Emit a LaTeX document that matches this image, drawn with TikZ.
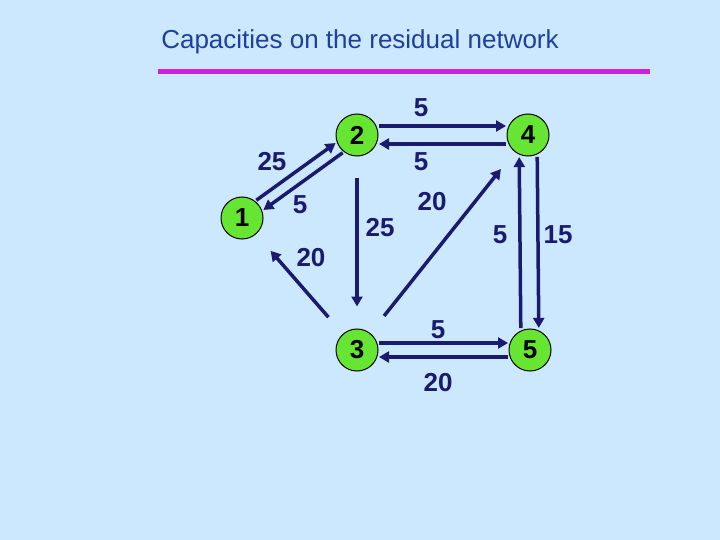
\documentclass[tikz,border=0pt]{standalone}
\usepackage{fontspec}
\setmainfont{Liberation Sans}
\usetikzlibrary{calc,arrows.meta}
\definecolor{bg}{HTML}{CCE8FF}
\definecolor{nav}{HTML}{1A1A6E}
\definecolor{grn}{HTML}{66E633}
\definecolor{ttl}{HTML}{1F3F9F}
\definecolor{mag}{HTML}{CC22DD}
\tikzset{
 vtx/.style={circle,draw=black,line width=1pt,fill=grn,minimum size=42pt,inner sep=0pt,font=\bfseries\fontsize{26}{26}\selectfont},
 edge/.style={draw=nav,line width=3.5pt,-{Triangle[length=10pt,width=11pt]},shorten <=22pt,shorten >=22pt},
 lbl/.style={font=\bfseries\fontsize{26}{26}\selectfont,text=nav}
}
\begin{document}
\begin{tikzpicture}[x=1pt,y=-1pt]
\fill[bg] (0,0) rectangle (720,540);
\useasboundingbox (0,0) rectangle (720,540);
\node[text=ttl,font=\fontsize{26}{26}\selectfont] (title) at (360,42) {Capacities on the residual network};
\draw[mag,line width=5pt] (158,72) -- (650,72);
\node[vtx] (n1) at (242,218) {1};
\node[vtx] (n2) at (357,135) {2};
\node[vtx] (n4) at (528,135) {4};
\node[vtx] (n3) at (357,350) {3};
\node[vtx] (n5) at (530,350) {5};
\def\pe#1#2#3{\draw[edge] ($(#1)!#3!90:(#2)$) -- ($(#2)!#3!-90:(#1)$);}
\pe{n1}{n2}{6pt}
\pe{n2}{n1}{6pt}
\pe{n2}{n4}{9pt}
\pe{n4}{n2}{9pt}
\pe{n3}{n5}{7pt}
\pe{n5}{n3}{7pt}
\pe{n4}{n5}{9pt}
\pe{n5}{n4}{9pt}
\draw[edge] (n2) -- (n3);
\draw[edge] (n3) -- (n4);
\draw[edge] (n3) -- (n1);
\node[lbl] (l1) at (421,108) {5};
\node[lbl] (l2) at (421,162) {5};
\node[lbl] (l3) at (272,162) {25};
\node[lbl] (l4) at (300,205) {5};
\node[lbl] (l5) at (432,202) {20};
\node[lbl] (l6) at (380,228) {25};
\node[lbl] (l7) at (500,235) {5};
\node[lbl] (l8) at (558,235) {15};
\node[lbl] (l9) at (311,258) {20};
\node[lbl] (l10) at (438,330) {5};
\node[lbl] (l11) at (438,383) {20};
\end{tikzpicture}
\end{document}
